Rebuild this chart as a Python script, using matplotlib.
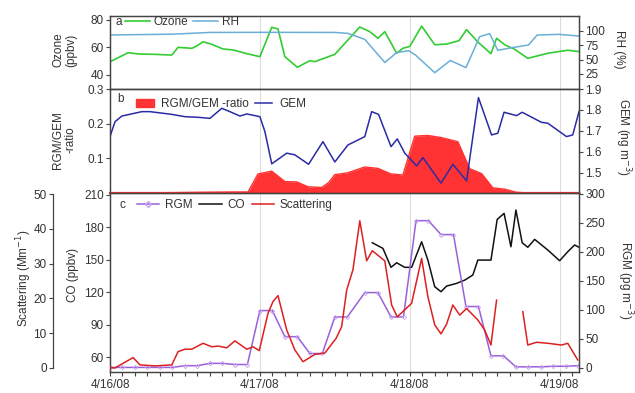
import numpy as np
import matplotlib
matplotlib.use("Agg")
import matplotlib.pyplot as plt
from matplotlib.ticker import MultipleLocator
from matplotlib.lines import Line2D
from matplotlib.patches import Patch

plt.rcParams['font.family'] = ['Liberation Sans', 'DejaVu Sans']

# ---------------- data (time in hours from 4/16/08 00:00) ----------------
date_ticks = [0, 24, 48, 72]
date_labels = ['4/16/08', '4/17/08', '4/18/08', '4/19/08']

ozone_t = [0, 0.8, 2.9, 4.5, 7.2, 9.9, 10.9, 13.1, 13.9, 14.9, 16.3, 18.1, 19.7, 22.1,
           24.0, 25.9, 26.9, 28.0, 30.0, 32.0, 32.8, 36.0, 40.0, 41.6, 42.9, 44.0, 45.9,
           46.9, 48.0, 49.9, 52.0, 53.9, 55.9, 57.1, 58.9, 61.0, 61.9, 63.2, 64.8, 66.9,
           70.1, 73.3, 75.1]
ozone = [49.7, 51.4, 56.2, 55.3, 55.0, 54.5, 60.1, 59.4, 61.1, 64.2, 62.3, 58.9, 58.2, 55.3,
         53.3, 74.7, 73.5, 53.3, 45.6, 50.4, 49.7, 55.0, 74.9, 71.5, 66.7, 71.5, 55.8,
         59.4, 60.8, 75.6, 62.0, 62.5, 65.0, 73.0, 64.0, 55.5, 66.7, 62.0, 58.7, 52.1,
         55.8, 58.0, 57.0]

rh_t = [0, 10, 16, 24, 36, 38.1, 40.8, 44.0, 45.9, 47.8, 48.9, 52.0, 54.5, 57.0, 59.2,
        60.8, 62.1, 64.0, 67.0, 68.4, 71.8, 75.1]
rh = [92.6, 94.0, 97.0, 97.2, 97.0, 95.4, 85.0, 45.0, 62.0, 65.4, 58.0, 27.3, 48.5, 36.0,
      89.6, 95.0, 66.0, 70.0, 75.2, 92.5, 93.7, 90.8]

gem_t = [0, 0.8, 1.9, 5.1, 6.4, 9.9, 12, 14.1, 16, 17.9, 19.2, 20.8, 21.9, 24, 24.8,
         25.9, 28.3, 29.6, 31.8, 34.1, 36, 38.1, 40.8, 41.9, 43, 45, 46, 47.2, 49.1, 50.1,
         53, 54.9, 57.1, 59, 61.1, 62.1, 63.1, 65.1, 66, 69.1, 70.1, 73.1, 74.1, 75.1]
gem = [1.673, 1.744, 1.771, 1.792, 1.792, 1.779, 1.768, 1.765, 1.76, 1.808, 1.792, 1.771,
       1.781, 1.768, 1.697, 1.543, 1.594, 1.586, 1.541, 1.649, 1.552, 1.633, 1.673, 1.792,
       1.779, 1.625, 1.662, 1.594, 1.533, 1.573, 1.451, 1.541, 1.462, 1.859, 1.681, 1.689,
       1.789, 1.773, 1.789, 1.741, 1.737, 1.673, 1.681, 1.792]

ratio_t = [0, 10, 14, 20, 22.1, 23.7, 25.9, 28, 29.9, 31.7, 33.9, 35, 36, 38, 40.8, 42.9,
           45, 46.9, 48.8, 50.9, 53, 55.7, 57.6, 59.5, 61.3, 63.2, 65.1, 67, 75.1]
ratio = [0.0, 0.001, 0.002, 0.003, 0.003, 0.055, 0.063, 0.033, 0.032, 0.018, 0.016, 0.03,
         0.053, 0.058, 0.075, 0.071, 0.055, 0.052, 0.164, 0.166, 0.16, 0.148, 0.07, 0.056,
         0.015, 0.011, 0.002, 0.0, 0.0]

rgm_t = [0, 2, 4, 6, 8, 10, 12, 14, 16, 18, 20, 22, 24, 26, 28, 30, 32, 34, 36, 38,
         40.8, 42.9, 45, 47, 49, 51, 53, 55, 57, 59, 61, 63, 65, 67, 69, 71, 73, 75]
rgm = [1, 1, 1, 1, 1, 1, 4, 4, 8, 8, 6, 6, 99, 99, 54, 54, 25, 25, 88, 88,
       130, 130, 88, 88, 254, 254, 230, 230, 106, 106, 21, 21, 2, 2, 2, 3, 3, 4]

co_t = [42, 43.7, 45, 45.9, 47.2, 48.3, 49.9, 50.9, 52, 53, 53.9, 55.5, 56.8, 58.1, 58.9,
        61, 62, 63.1, 64.2, 65, 66, 66.9, 68, 70.1, 72, 73.3, 74.4, 75.1]
co = [165.5, 160.3, 142.8, 147, 142.8, 142.8, 166.4, 149.5, 124.9, 120.3, 125.5, 128, 131,
      135.7, 149.5, 149.5, 187, 192.6, 161.8, 195.7, 165.5, 161.3, 168.6, 158.8, 148.9,
      157.2, 163.4, 161.3]

scat_t = [0, 0.8, 1.9, 3.7, 4.8, 7.2, 9.9, 10.9, 12, 13.1, 14.9, 16.3, 17.3, 18.7, 20,
          21.9, 22.9, 23.9, 25.3, 26.1, 26.9, 28.3, 29.6, 30.9, 32.8, 34.4, 36.2, 37.1,
          37.9, 38.9, 40, 41.1, 42, 44, 45.1, 46, 48.3, 49.9, 50.9, 52, 53, 53.9, 54.9,
          56, 57.1, 58.9, 60, 61, 61.9, 64.0, 66.1, 66.9, 68.3, 70.1, 72.3, 73.3, 74.9]
scat = [0.1, 0.0, 1.15, 3.0, 0.9, 0.6, 0.9, 4.7, 5.4, 5.4, 7.1, 6.1, 6.3, 5.8, 7.8,
        5.4, 6.1, 5.0, 15.7, 19.1, 20.8, 10.9, 5.2, 1.8, 3.9, 4.3, 8.5, 11.9,
        22.4, 28.2, 42.3, 30.8, 33.7, 30.8, 18.1, 14.7, 18.6, 31.5, 20.5, 12.4, 9.8, 12.6, 18.1,
        15.2, 17.1, 13.8, 10.9, 6.6, 19.5, np.nan, 16.2, 6.6, 7.4, 7.1, 6.6, 7.1, 2.3]

# ---------------- styles ----------------
C_OZ = '#33cc33'
C_RH = '#6aaed8'
C_GEM = '#2b2ba6'
C_RATIO = '#ff3333'
C_RGM = '#9a60dc'
C_CO = '#111111'
C_SC = '#dd2020'
TXT = '#333333'
FS = 8.5

W_PX, H_PX = 635, 393
fig = plt.figure(figsize=(W_PX / 100, H_PX / 100), dpi=100)

def box(top, bottom, left=110, right=579):
    return [left / W_PX, 1 - bottom / H_PX, (right - left) / W_PX, (bottom - top) / H_PX]

axa = fig.add_axes(box(16, 89))
axb = fig.add_axes(box(89, 193))
axc = fig.add_axes(box(193, 372))
axa2 = axa.twinx()
axb2 = axb.twinx()
axc2 = axc.twinx()
axc3 = axc.twinx()

XMAX = 75.1
for ax in (axa, axb, axc, axa2, axb2, axc2, axc3):
    ax.set_xlim(0, XMAX)
    for s in ax.spines.values():
        s.set_color('#444444')
        s.set_linewidth(0.9)
    ax.tick_params(axis='y', direction='out', length=3, width=0.8, color='#444444',
                   labelsize=FS, labelcolor=TXT, pad=1.5)

for ax in (axa, axb, axc):
    for d in date_ticks[1:]:
        ax.axvline(d, color='#dcdcdc', lw=0.8, zorder=0)

# x axis only on bottom panel
for ax in (axa, axb):
    ax.tick_params(axis='x', bottom=False, labelbottom=False)
axc.set_xticks(date_ticks)
axc.set_xticklabels(date_labels)
axc.xaxis.set_minor_locator(MultipleLocator(2))
axc.tick_params(axis='x', which='both', direction='out', length=3, width=0.8,
                color='#444444', labelsize=FS, labelcolor=TXT, pad=2)

# ---------------- panel a ----------------
axa.plot(ozone_t, ozone, color=C_OZ, lw=1.2)
axa.set_ylim(29.8, 82.9)
axa.set_yticks([40, 60, 80])
axa2.plot(rh_t, rh, color=C_RH, lw=1.1)
axa2.set_ylim(-1, 125.5)
axa2.set_yticks([25, 50, 75, 100])
axa.text(115 / W_PX, 1 - 22 / H_PX, 'a', transform=fig.transFigure, fontsize=FS,
         color=TXT, ha='left', va='center')
leg_a = axa2.legend([Line2D([], [], color=C_OZ, lw=1.2), Line2D([], [], color=C_RH, lw=1.1)],
                    ['Ozone', 'RH'], loc='center left',
                    bbox_to_anchor=(125 / W_PX, 1 - 22 / H_PX), bbox_transform=fig.transFigure,
                    ncol=2, frameon=False, fontsize=FS, handlelength=2.1, handletextpad=0.35,
                    columnspacing=0.4, borderpad=0, borderaxespad=0)
for t in leg_a.get_texts():
    t.set_color(TXT)

# ---------------- panel b ----------------
axb.fill_between(ratio_t, 0, ratio, color=C_RATIO, lw=0, zorder=2)
axb.plot(ratio_t, ratio, color=C_RATIO, lw=1.0, zorder=2)
axb.axhline(0, color=C_RATIO, lw=1.6, zorder=5, clip_on=False)
axb.set_ylim(0, 0.3)
axb.set_yticks([0.1, 0.2, 0.3])
axb2.plot(gem_t, gem, color=C_GEM, lw=1.1)
axb2.set_ylim(1.404, 1.9)
axb2.set_yticks([1.5, 1.6, 1.7, 1.8, 1.9])
axb.text(117 / W_PX, 1 - 99 / H_PX, 'b', transform=fig.transFigure, fontsize=FS,
         color=TXT, ha='left', va='center')
leg_b = axb2.legend([Patch(facecolor=C_RATIO, edgecolor=C_RATIO),
                     Line2D([], [], color=C_GEM, lw=1.1)],
                    ['RGM/GEM -ratio', 'GEM'], loc='center left',
                    bbox_to_anchor=(136 / W_PX, 1 - 104 / H_PX), bbox_transform=fig.transFigure,
                    ncol=2, frameon=False, fontsize=FS, handlelength=1.5, handleheight=0.7,
                    handletextpad=0.6, columnspacing=0.5, borderpad=0, borderaxespad=0)
for t in leg_b.get_texts():
    t.set_color(TXT)

# ---------------- panel c ----------------
axc.plot(co_t, co, color=C_CO, lw=1.1, zorder=3)
axc.set_ylim(46.2, 211.4)
axc.set_yticks([60, 90, 120, 150, 180, 210])
axc2.plot(rgm_t, rgm, color=C_RGM, lw=1.1, marker='D', ms=2.2, mfc='none',
          mec='#c7a3f0', mew=0.6)
axc2.set_ylim(-6.9, 301.7)
axc2.set_yticks([0, 50, 100, 150, 200, 250, 300])
axc3.plot(scat_t, scat, color=C_SC, lw=1.1)
axc3.set_ylim(-1.15, 50.29)
axc3.set_yticks([0, 10, 20, 30, 40, 50])
axc3.yaxis.set_ticks_position('left')
axc3.yaxis.set_label_position('left')
axc3.spines['left'].set_visible(True)
axc3.spines['left'].set_position(('axes', -57 / 469))
axc3.spines['left'].set_bounds(0, 50)
for k in ('right', 'top', 'bottom'):
    axc3.spines[k].set_visible(False)
axc3.patch.set_visible(False)
axc.text(120 / W_PX, 1 - 205 / H_PX, 'c', transform=fig.transFigure, fontsize=FS,
         color=TXT, ha='left', va='center')
leg_c = axc3.legend([Line2D([], [], color=C_RGM, lw=1.1, marker='D', ms=3, mfc='none',
                            mec='#c7a3f0'),
                     Line2D([], [], color=C_CO, lw=1.1),
                     Line2D([], [], color=C_SC, lw=1.1)],
                    ['RGM', 'CO', 'Scattering'], loc='center left',
                    bbox_to_anchor=(137 / W_PX, 1 - 205 / H_PX), bbox_transform=fig.transFigure,
                    ncol=3, frameon=False, fontsize=FS, handlelength=1.9, handletextpad=0.45,
                    columnspacing=0.6, borderpad=0, borderaxespad=0)
for t in leg_c.get_texts():
    t.set_color(TXT)

# ---------------- axis labels ----------------
def flabel(x, y, s, rot):
    fig.text(x / W_PX, 1 - y / H_PX, s, rotation=rot, ha='center', va='center',
             fontsize=FS, color=TXT, linespacing=1.0, rotation_mode='anchor')

flabel(65, 50, 'Ozone\n(ppbv)', 90)
flabel(64, 140, 'RGM/GEM\n-ratio', 90)
flabel(73, 275, 'CO (ppbv)', 90)
flabel(24, 278, 'Scattering (Mm$^{-1}$)', 90)
flabel(619, 49, 'RH (%)', 270)
flabel(623, 137, 'GEM (ng m$^{-3}$)', 270)
flabel(625, 280, 'RGM (pg m$^{-3}$)', 270)

fig.savefig('out.png', dpi=100)
